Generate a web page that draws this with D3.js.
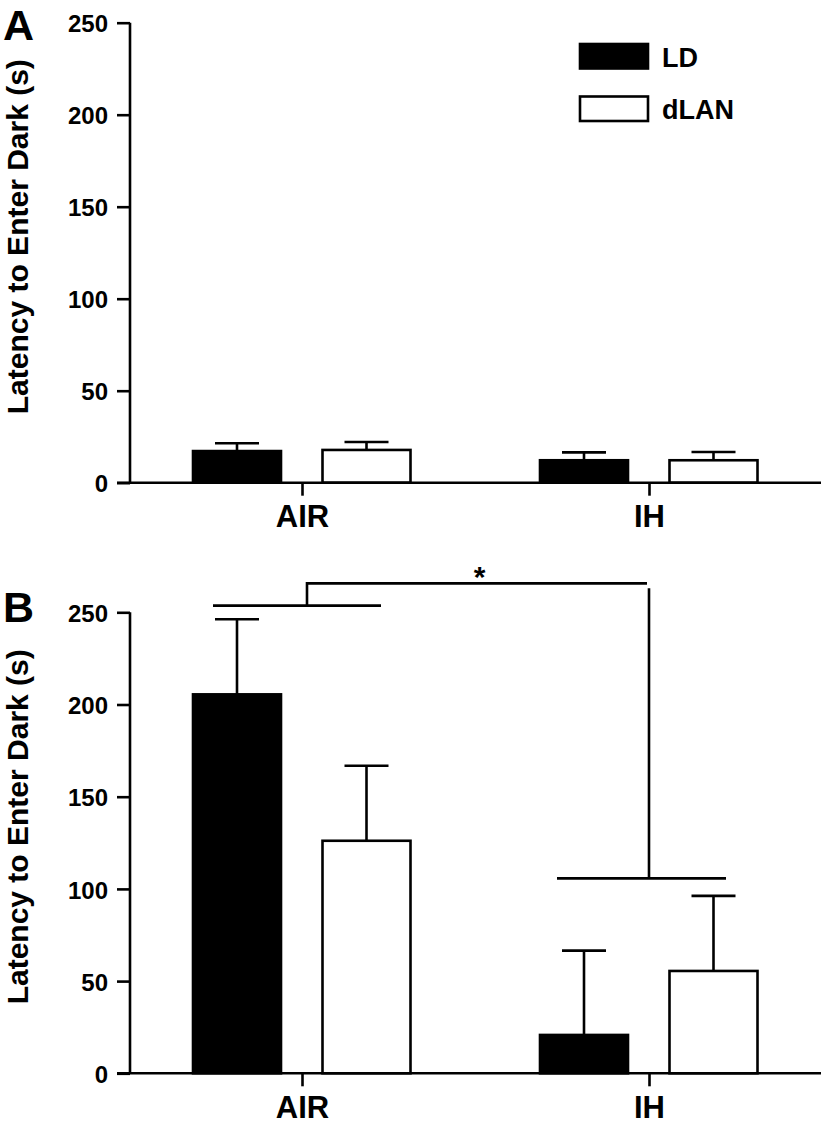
<!DOCTYPE html>
<html>
<head>
<meta charset="utf-8">
<script src="https://cdn.jsdelivr.net/npm/d3@7"></script>
<style>
html,body{margin:0;padding:0;background:#fff;}
svg{display:block;}
text{font-family:"Liberation Sans",Arial,Helvetica,sans-serif;font-weight:bold;fill:#000;}
</style>
</head>
<body>
<svg id="chart" width="825" height="1133"></svg>
<script>
// ---- Data ----
const groups = ["AIR", "IH"];
const series = ["LD", "dLAN"];
const yTicks = [0, 50, 100, 150, 200, 250];

// Panel A
const aLD = [17.2, 12.2];
const aLDErr = [4.2, 4.3];
const aDLAN = [17.8, 12.2];
const aDLANErr = [4.3, 4.5];

// Panel B
const bLD = [205.5, 20.8];
const bLDErr = [40.7, 45.7];
const bDLAN = [126.1, 55.5];
const bDLANErr = [40.7, 40.7];

// Significance bracket levels (data units) for panel B
const bracketAIR = 253.6;
const bracketIH = 105.7;
const bracketTop = 265.7;
const sigLabel = "*";

const yTitle = "Latency to Enter Dark (s)";

// ---- Layout ----
const svg = d3.select("#chart");
const axisX = 130;
const xLineStart = 117, xLineEnd = 821;
const lw = 2.6;

const x = d3.scalePoint().domain(groups).range([302, 649]);
const sub = d3.scalePoint().domain(series).range([-65, 64.5]);
const barW = 88;
const capW = 44;

function panel(opts) {
  const y = d3.scaleLinear().domain([0, 250]).range([opts.bottom, opts.top]);
  const g = svg.append("g");

  const rows = [];
  groups.forEach((grp, i) => {
    rows.push({grp, s: "LD", v: opts.ld[i], e: opts.ldErr[i]});
    rows.push({grp, s: "dLAN", v: opts.dlan[i], e: opts.dlanErr[i]});
  });

  // error bars
  rows.forEach(r => {
    const cx = x(r.grp) + sub(r.s);
    g.append("line").attr("x1", cx).attr("x2", cx)
      .attr("y1", y(r.v)).attr("y2", y(r.v + r.e))
      .attr("stroke", "#000").attr("stroke-width", lw);
    g.append("line").attr("x1", cx - capW / 2).attr("x2", cx + capW / 2)
      .attr("y1", y(r.v + r.e)).attr("y2", y(r.v + r.e))
      .attr("stroke", "#000").attr("stroke-width", lw);
  });

  g.selectAll("rect.bar").data(rows).join("rect")
    .attr("class", "bar")
    .attr("x", d => x(d.grp) + sub(d.s) - barW / 2)
    .attr("y", d => y(d.v))
    .attr("width", barW)
    .attr("height", d => y(0) - y(d.v))
    .attr("fill", d => d.s === "LD" ? "#000" : "#fff")
    .attr("stroke", "#000")
    .attr("stroke-width", lw);

  // y axis
  const ya = d3.axisLeft(y).tickValues(yTicks).tickSize(13).tickPadding(9).tickSizeOuter(0);
  const yg = g.append("g").attr("transform", `translate(${axisX},0)`).call(ya);
  yg.select(".domain").attr("stroke-width", lw).attr("d", `M0,${y(0)}V${y(250)}`);
  yg.selectAll(".tick line").attr("stroke-width", lw);
  yg.selectAll(".tick text").style("font-size", "24px").attr("dy", "0.38em");

  // x axis
  const xa = d3.axisBottom(x).tickSize(13).tickPadding(9).tickSizeOuter(0);
  const xg = g.append("g").attr("transform", `translate(0,${y(0)})`).call(xa);
  xg.select(".domain").attr("stroke-width", lw).attr("d", `M${xLineStart},0H${xLineEnd}`);
  xg.selectAll(".tick line").attr("stroke-width", lw);
  xg.selectAll(".tick text").style("font-size", "31px").attr("dy", "0.72em");

  // y title
  g.append("text")
    .attr("transform", `translate(28,${(y(0) + y(250)) / 2 - 16}) rotate(-90)`)
    .attr("text-anchor", "middle")
    .style("font-size", "30px")
    .text(yTitle);

  // panel letter
  g.append("text").attr("x", opts.letterX).attr("y", opts.letterY)
    .style("font-size", "43px").text(opts.letter);

  return {g, y};
}

const A = panel({top: 22.7, bottom: 482.7, ld: aLD, ldErr: aLDErr, dlan: aDLAN, dlanErr: aDLANErr,
  letter: "A", letterX: 3, letterY: 40});
const B = panel({top: 612.3, bottom: 1073.3, ld: bLD, ldErr: bLDErr, dlan: bDLAN, dlanErr: bDLANErr,
  letter: "B", letterX: 3, letterY: 622});

// legend in panel A
const legend = svg.append("g");
series.forEach((s, i) => {
  const ly = 44 + i * 52.5;
  legend.append("rect").attr("x", 580).attr("y", ly).attr("width", 68).attr("height", 24.5)
    .attr("fill", s === "LD" ? "#000" : "#fff").attr("stroke", "#000").attr("stroke-width", lw);
  legend.append("text").attr("x", 662).attr("y", ly + 22.5).style("font-size", "27px").text(s);
});

// significance brackets in panel B
const by = B.y;
const br = svg.append("g").attr("stroke", "#000").attr("stroke-width", lw).attr("fill", "none");
br.append("line").attr("x1", x("AIR") - 89).attr("x2", x("AIR") + 79)
  .attr("y1", by(bracketAIR)).attr("y2", by(bracketAIR));
br.append("line").attr("x1", x("IH") - 92).attr("x2", x("IH") + 77)
  .attr("y1", by(bracketIH)).attr("y2", by(bracketIH));
br.append("path").attr("d",
  `M${x("AIR") + 5},${by(bracketAIR)}V${by(bracketTop)}H${x("IH") - 2}`);
br.append("line").attr("x1", x("IH")).attr("x2", x("IH"))
  .attr("y1", by(bracketTop) + 5).attr("y2", by(bracketIH));
svg.append("text").attr("x", (x("AIR") + x("IH")) / 2 + 4).attr("y", by(bracketTop) + 4)
  .attr("text-anchor", "middle").style("font-size", "30px").text(sigLabel);
</script>
</body>
</html>
